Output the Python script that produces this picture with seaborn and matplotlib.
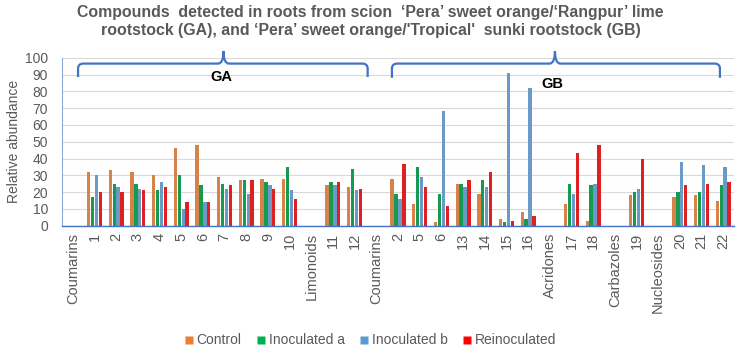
import matplotlib.pyplot as plt
import matplotlib as mpl
import seaborn as sns
import pandas as pd
from matplotlib.path import Path
from matplotlib.patches import PathPatch
from matplotlib.lines import Line2D
from matplotlib.ticker import MultipleLocator

sns.set_style('white')
mpl.rcParams['font.family'] = ['Liberation Sans', 'DejaVu Sans']

# categories along the x axis (class names carry no bars)
labels = ['Coumarins', '1', '2', '3', '4', '5', '6', '7', '8', '9', '10',
          'Limonoids', '11', '12',
          'Coumarins', '2', '5', '6', '13', '14', '15', '16',
          'Acridones', '17', '18', 'Carbazoles', '19', 'Nucleosides', '20', '21', '22']

series = ['Control', 'Inoculated a', 'Inoculated b', 'Reinoculated']
colors = ['#ED7D31', '#00B050', '#5B9BD5', '#FF0000']

control = [0, 32, 33, 32, 30, 46, 48, 29, 27, 28, 28,
           0, 24, 23,
           0, 28, 13, 2, 25, 19, 4, 8,
           0, 13, 3, 0, 18, 0, 17, 18, 15]
inoc_a = [0, 17, 25, 25, 21, 30, 24, 25, 27, 26, 35,
          0, 26, 34,
          0, 19, 35, 19, 25, 27, 2, 4,
          0, 25, 24, 0, 20, 0, 20, 20, 24]
inoc_b = [0, 30, 23, 22, 26, 10, 14, 22, 19, 24, 21,
          0, 24, 21,
          0, 16, 29, 68, 23, 23, 91, 82,
          0, 19, 25, 0, 22, 0, 38, 36, 35]
reinoc = [0, 20, 20, 21, 23, 14, 14, 24, 27, 22, 16,
          0, 26, 22,
          0, 37, 23, 12, 27, 32, 3, 6,
          0, 43, 48, 0, 40, 0, 24, 25, 26]

rows = []
for i in range(len(labels)):
    for s, v in zip(series, [control[i], inoc_a[i], inoc_b[i], reinoc[i]]):
        rows.append({'pos': i, 'series': s, 'value': v})
df = pd.DataFrame(rows)

gray = '#595959'
axcol = '#8EA9DB'

fig = plt.figure(figsize=(7.41, 3.54), dpi=100)
ax = fig.add_axes([62/741, 1-225.7/354, 672/741, 168/354])

sns.barplot(data=df, x='pos', y='value', hue='series', hue_order=series,
            palette=colors, width=0.72, gap=0.15, linewidth=0,
            legend=False, ax=ax)

ax.set_xlim(-0.5, len(labels) - 0.5)
ax.set_ylim(0, 100)
ax.yaxis.set_major_locator(MultipleLocator(10))
ax.grid(axis='y', color='#D9D9D9', linewidth=0.8)
ax.set_axisbelow(True)
ax.set_xlabel('')
ax.set_ylabel('Relative abundance', color=gray, fontsize=10, labelpad=3)

ax.set_xticks(range(len(labels)))
ax.set_xticklabels(labels, rotation=90, va='top', ha='center')
ax.set_xticks([i - 0.5 for i in range(len(labels) + 1)], minor=True)
ax.tick_params(axis='x', which='major', length=0, labelsize=10.5,
               labelcolor=gray, pad=5)
ax.tick_params(axis='x', which='minor', length=4, color=axcol, width=0.8)
ax.tick_params(axis='y', length=4, direction='in', color=axcol,
               labelsize=10, labelcolor=gray, pad=10)

for side in ['top', 'right']:
    ax.spines[side].set_visible(False)
ax.spines['left'].set_color(axcol)
ax.spines['bottom'].set_color('#4472C4')
ax.spines['bottom'].set_linewidth(1.0)


def brace(ax, x0, x1, xm, y_end, y_mid, y_tip):
    rx, ry = 0.25, 3.0
    verts = [(x0, y_end), (x0, y_mid - ry), (x0, y_mid), (x0 + rx, y_mid),
             (xm - rx, y_mid), (xm, y_mid), (xm, y_tip),
             (xm, y_mid), (xm + rx, y_mid),
             (x1 - rx, y_mid), (x1, y_mid), (x1, y_mid - ry), (x1, y_end)]
    codes = [Path.MOVETO, Path.LINETO, Path.CURVE3, Path.CURVE3,
             Path.LINETO, Path.CURVE3, Path.CURVE3,
             Path.CURVE3, Path.CURVE3,
             Path.LINETO, Path.CURVE3, Path.CURVE3, Path.LINETO]
    ax.add_patch(PathPatch(Path(verts, codes), fill=False, edgecolor='#4472C4',
                           linewidth=1.6, clip_on=False, zorder=5))


brace(ax, 0.24, 13.6, 6.95, 88.5, 96.5, 104)
brace(ax, 14.72, 29.85, 22.24, 88, 96.5, 104)
ax.text(6.85, 88.5, 'GA', ha='center', va='center', fontsize=10.5,
        fontweight='bold', color='black')
ax.text(22.1, 84.5, 'GB', ha='center', va='center', fontsize=10.5,
        fontweight='bold', color='black')

fig.suptitle("Compounds  detected in roots from scion  \u2018Pera\u2019 sweet orange/\u2018Rangpur\u2019 lime\n"
             "rootstock (GA), and \u2018Pera\u2019 sweet orange/'Tropical'  sunki rootstock (GB)",
             x=0.5, y=1 - 4.5/354, va='top', fontsize=11.4, fontweight='bold',
             color=gray, linespacing=1.25)

handles = [Line2D([], [], marker='s', linestyle='none', markersize=6,
                  markerfacecolor=c, markeredgecolor='none') for c in colors]
fig.legend(handles, series, loc='center', bbox_to_anchor=(0.5, 1 - 340.5/354),
           ncol=4, frameon=False, fontsize=10, handlelength=0.6,
           handletextpad=0.25, columnspacing=1.1, labelcolor=gray)

fig.savefig('out.png', dpi=100)
